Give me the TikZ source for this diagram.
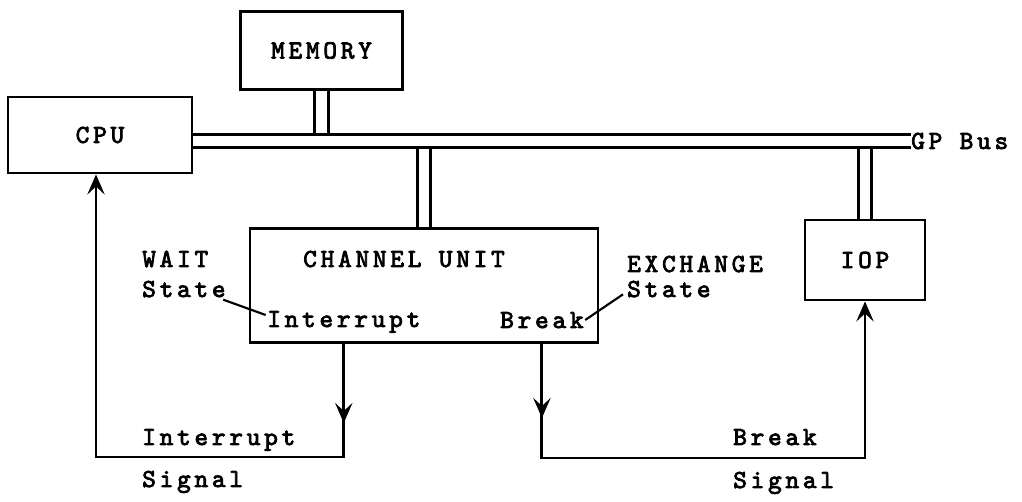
\documentclass[tikz,border=0pt]{standalone}
\usepackage{fontspec}
\usetikzlibrary{arrows.meta}
\newfontfamily\typer{lmmono10-regular.otf}[LetterSpace=14.5, FakeBold=3]

\begin{document}
\begin{tikzpicture}[x=0.75pt, y=-0.75pt,
    font=\typer\fontsize{19.5}{22}\selectfont,
    box/.style={draw, line width=2.2pt, inner sep=0pt},
    lbl/.style={anchor=base west, inner sep=0pt},
    bus/.style={line width=2.2pt, double, double distance=7.7pt},
    sig/.style={line width=2.2pt, -{Stealth[length=15pt, width=13pt, inset=6pt]}},
    pointer/.style={line width=1.6pt}]
    \useasboundingbox (0,0) rectangle (1022,502);

    % Units on the bus
    \node[box, minimum width=138pt, minimum height=57pt] (cpu) at (100,135) {CPU};
    \node[box, minimum width=122pt, minimum height=58pt] (memory) at (321.5,50.5) {MEMORY};
    \node[box, minimum width=261pt, minimum height=86pt] (channel) at (424,285.5) {};
    \node[box, minimum width=90pt, minimum height=60pt] (iop) at (865,260) {IOP};
    \node[anchor=west, inner sep=0pt] (gpbus) at (911,141) {GP Bus};

    % Texts in and around the channel unit
    \node[lbl] (chtitle) at (303,267) {CHANNEL UNIT};
    \node[lbl] (intr) at (267,327) {Interrupt};
    \node[lbl] (brk) at (500,328) {Break};
    \node[lbl] (waitlbl) at (142,267) {WAIT};
    \node[lbl] (waitst) at (142,297) {State};
    \node[lbl] (exlbl) at (627,272) {EXCHANGE};
    \node[lbl] (exst) at (627,297) {State};

    % Signal names
    \node[lbl] (intsig) at (142,445) {Interrupt};
    \node[lbl] (intsig2) at (142,487) {Signal};
    \node[lbl] (brksig) at (733,445) {Break};
    \node[lbl] (brksig2) at (733,488) {Signal};

    % Connections to the bus, then the bus on top
    \draw[bus] (memory.south) -- (memory.south |- gpbus.west);
    \draw[bus] (channel.north) -- (channel.north |- gpbus.west);
    \draw[bus] (iop.north) -- (iop.north |- gpbus.west);
    \draw[bus] (cpu.east |- gpbus.west) -- (gpbus.west);

    % Interrupt signal to the CPU
    \draw[sig] (intr |- channel.south) -- (intr |- 0,423);
    \draw[sig] (intr |- 0,418) -- (intr |- 0,457) -| ([xshift=-3pt]cpu.south);

    % Break signal to the IOP
    \draw[sig] (brk |- channel.south) -- (brk |- 0,418);
    \draw[sig] (brk |- 0,413) -- (brk |- 0,458) -| (iop.south);

    % State pointers
    \draw[pointer] ([xshift=-2pt, yshift=-2pt]waitst.base east) -- ([xshift=-1pt, yshift=9pt]intr.base west);
    \draw[pointer] ([xshift=1pt, yshift=6pt]brk.base east) -- ([xshift=-3pt, yshift=2pt]exst.base west);
\end{tikzpicture}
\end{document}
